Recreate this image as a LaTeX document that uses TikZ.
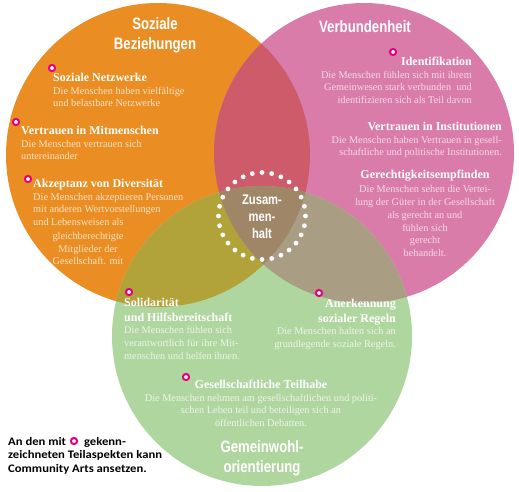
\documentclass[tikz,border=0pt]{standalone}
\usepackage{fontspec}
\setmainfont{Liberation Serif}
\newfontfamily\kopffont[FakeStretch=0.8]{Liberation Sans}
\newfontfamily\notizfont[FakeStretch=1.1]{Carlito}

\definecolor{sozial}{RGB}{234,142,36}
\definecolor{verbund}{RGB}{218,124,170}
\definecolor{gemein}{RGB}{176,214,160}
\definecolor{sozverb}{RGB}{205,91,105}
\definecolor{sozgem}{RGB}{177,162,58}
\definecolor{verbgem}{RGB}{169,157,131}
\definecolor{mitte}{RGB}{159,134,103}
\definecolor{ring}{RGB}{229,0,125}
\definecolor{descS}{RGB}{251,227,196}
\definecolor{descV}{RGB}{247,217,231}
\definecolor{descG}{RGB}{236,245,231}

\def\kreisS{(158,155) circle[radius=152pt]}
\def\kreisV{(364,153) circle[radius=150pt]}
\def\kreisG{(262,336) circle[radius=150pt]}
\newcommand\titel[1]{{\fontsize{12}{12.8}\selectfont\bfseries\color{white}#1}}

\begin{document}
\begin{tikzpicture}[x=1pt,y=-1pt,
    kopf/.style={font=\kopffont\bfseries\fontsize{16.5}{20.5}\selectfont,
      text=white, align=center, inner sep=0pt},
    aspekt/.style={font=\fontsize{10.3}{12.8}\selectfont, inner sep=0pt},
    punkt/.style={circle, draw=ring, fill=white, line width=2pt,
      minimum size=6.2pt, inner sep=0pt}]
  \useasboundingbox (0,0) rectangle (519,491);
  % the three circles
  \fill[sozial] \kreisS;
  \fill[verbund] \kreisV;
  \fill[gemein] \kreisG;
  % overlaps
  \begin{scope}\clip \kreisS; \fill[sozverb] \kreisV; \end{scope}
  \begin{scope}\clip \kreisS; \fill[sozgem] \kreisG; \end{scope}
  \begin{scope}\clip \kreisV; \fill[verbgem] \kreisG; \end{scope}
  \begin{scope}\clip \kreisS; \clip \kreisV; \fill[mitte] \kreisG; \end{scope}

  % centre: dotted ring
  \coordinate (zentrum) at (262,216);
  \foreach \k in {0,...,27}
    \fill[white] (zentrum) ++(\k*360/28:43.5pt) circle[radius=2.4pt];
  \node[kopf, font=\kopffont\bfseries\fontsize{14}{17}\selectfont]
    (zusammenhalt) at (262,217) {Zusam-\\men-\\halt};

  % headings
  \node[kopf, anchor=north] (beziehungen) at (155,17) {Soziale\\Beziehungen};
  \node[kopf, anchor=north] (verbundenheit) at (365,20) {Verbundenheit};
  \node[kopf, anchor=north] (gemeinwohl) at (262,440) {Gemeinwohl-\\orientierung};

  % Soziale Beziehungen
  \node[aspekt, text=descS, anchor=north west, align=left] (netzwerke) at (53,72.7)
    {\titel{Soziale Netzwerke}\\Die Menschen haben vielfältige\\und belastbare Netzwerke};
  \node[aspekt, text=descS, anchor=north west, align=left] (mitmenschen) at (21,125.7)
    {\titel{Vertrauen in Mitmenschen}\\Die Menschen vertrauen sich\\untereinander};
  \node[aspekt, text=descS, anchor=north west, align=left] (diversitaet) at (33,178.7)
    {\titel{Akzeptanz von Diversität}\\Die Menschen akzeptieren Personen\\mit anderen Wertvorstellungen\\und Lebensweisen als};
  \node[aspekt, text=descS, anchor=north, align=center] (diversitaet2) at (88,232)
    {gleichberechtigte\\Mitglieder der\\Gesellschaft. mit};

  % Verbundenheit
  \node[aspekt, text=descV, anchor=north east, align=right] (identifikation) at (472,56.7)
    {\titel{Identifikation}\\Die Menschen fühlen sich mit ihrem\\Gemeinwesen stark verbunden\ \ und\\identifizieren sich als Teil davon};
  \node[aspekt, text=descV, anchor=north east, align=right] (institutionen) at (502,121.7)
    {\titel{Vertrauen in Institutionen}\\Die Menschen haben Vertrauen in gesell-\\schaftliche und politische Institutionen.};
  \node[aspekt, text=descV, anchor=north, align=center] (gerechtigkeit) at (425,169.7)
    {\titel{Gerechtigkeitsempfinden}\\[1.5pt]Die Menschen sehen die Vertei-\\lung der Güter in der Gesellschaft\\als gerecht an und\\fühlen sich\\gerecht\\behandelt.};

  % Gemeinwohlorientierung
  \node[aspekt, text=descG, anchor=north west, align=left] (solidaritaet) at (124,297.7)
    {\titel{Solidarität}\\[2pt]\titel{und Hilfsbereitschaft}\\Die Menschen fühlen sich\\verantwortlich für ihre Mit-\\menschen und helfen ihnen.};
  \node[aspekt, text=descG, anchor=north east, align=right] (regeln) at (396,298.7)
    {\titel{Anerkennung}\\[2pt]\titel{sozialer Regeln}\\Die Menschen halten sich an\\grundlegende soziale Regeln.};
  \node[aspekt, text=descG, anchor=north, align=center] (teilhabe) at (261,379.7)
    {\titel{Gesellschaftliche Teilhabe}\\Die Menschen nehmen am gesellschaftlichen und politi-\\schen Leben teil und beteiligen sich an\\öffentlichen Debatten.};

  % note
  \node[anchor=north west, align=left, inner sep=0pt,
    font=\notizfont\bfseries\fontsize{11.5}{13.5}\selectfont] (hinweis) at (8,437)
    {An den mit\hspace{18pt}gekenn-\\zeichneten Teilaspekten kann\\Community Arts ansetzen.};

  % Community-Arts markers
  \foreach \n/\x/\y in {m1/52/68, m2/16/122, m3/28/179, m4/393/52,
      m5/129/292, m6/319/293, m7/186/377, m8/74/441}
    \node[punkt] (\n) at (\x,\y) {};
\end{tikzpicture}
\end{document}
